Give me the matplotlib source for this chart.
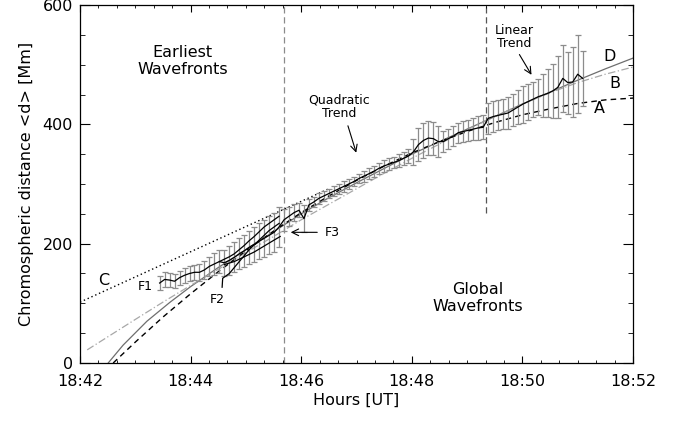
import matplotlib
matplotlib.use('Agg')
import matplotlib.pyplot as plt
from matplotlib.ticker import MultipleLocator

plt.rcParams['font.family'] = 'DejaVu Sans'

# time in minutes after 18:42 UT
t_mean = [1.44, 1.53, 1.62, 1.71, 1.80, 1.89, 1.98, 2.07, 2.16, 2.25,
          2.34, 2.43, 2.52, 2.61, 2.70, 2.79, 2.88, 2.97, 3.06, 3.15,
          3.24, 3.33, 3.42, 3.51, 3.60, 3.69, 3.78, 3.87, 3.96, 4.05,
          4.14, 4.23, 4.32, 4.41, 4.50, 4.59, 4.68, 4.77, 4.86, 4.95,
          5.04, 5.13, 5.22, 5.31, 5.40, 5.49, 5.58, 5.67, 5.76, 5.85,
          5.94, 6.03, 6.12, 6.21, 6.30, 6.39, 6.48, 6.57, 6.66, 6.75,
          6.84, 6.93, 7.02, 7.11, 7.20, 7.29, 7.38, 7.47, 7.56, 7.65,
          7.74, 7.83, 7.92, 8.01, 8.10, 8.19, 8.28, 8.37, 8.46, 8.55,
          8.64, 8.73, 8.82, 8.91, 9.00, 9.09]
# mean chromospheric distance <d> [Mm]
d_mean = [134, 140, 139, 137, 143, 147, 150, 152, 152, 156,
          162, 166, 170, 168, 172, 177, 183, 188, 194, 199,
          204, 209, 214, 219, 228, 240, 246, 252, 256, 242,
          265, 270, 276, 280, 284, 288, 292, 296, 300, 304,
          309, 313, 317, 321, 326, 330, 333, 336, 339, 343,
          347, 354, 366, 373, 377, 376, 371, 371, 376, 380,
          386, 388, 390, 392, 394, 395, 410, 413, 415, 417,
          419, 424, 429, 434, 438, 442, 446, 449, 452, 456,
          462, 477, 470, 471, 484, 477]
d_err = [12, 12, 12, 12, 12, 13, 13, 13, 14, 15,
         16, 18, 20, 22, 24, 25, 26, 27, 28, 29,
         30, 31, 32, 33, 33, 18, 16, 14, 12, 23,
         10, 9, 9, 9, 8, 8, 8, 9, 9, 8,
         8, 9, 9, 9, 10, 10, 10, 10, 11, 11,
         12, 22, 28, 29, 29, 28, 26, 18, 17, 17,
         17, 18, 18, 19, 20, 20, 26, 26, 25, 25,
         26, 27, 29, 31, 30, 29, 30, 36, 40, 45,
         52, 56, 52, 58, 65, 46]

# individual early fronts
t_f1 = [2.52, 2.61, 2.70, 2.79, 2.88, 2.97, 3.06, 3.15, 3.24, 3.33, 3.42, 3.51, 3.60]
d_f1 = [170, 174, 178, 183, 190, 197, 205, 212, 220, 228, 234, 240, 246]
t_f2 = [2.57, 2.58, 2.70, 2.79, 2.88, 2.97, 3.06, 3.15, 3.24, 3.33, 3.42, 3.51, 3.60]
d_f2 = [127, 142, 150, 160, 170, 180, 190, 198, 206, 214, 222, 228, 234]
t_f3 = [2.61, 2.79, 2.97, 3.15, 3.33, 3.51, 3.62]
d_f3 = [165, 170, 178, 186, 196, 206, 212]

# trend curves A-D
t_fit = [0.5, 1.0, 1.5, 2.0, 2.5, 3.0, 3.5, 4.0, 4.5, 5.0,
         5.5, 6.0, 6.5, 7.0, 7.5, 8.0, 8.5, 9.0, 9.5, 10.0]
t_fitA = [0.6] + t_fit[1:]
d_fitA = [0, 35, 77, 116, 153, 188, 221, 252, 280, 306,
          330, 352, 371, 388, 403, 416, 426, 435, 441, 444]
t_fitB = [0.13] + t_fit[1:]
d_fitB = [22, 73, 102, 130, 157, 185, 212, 240, 266, 292,
          318, 343, 367, 391, 413, 434, 453, 470, 484, 496]
t_fitC = [0.0, 4.5]
d_fitC = [102, 292]
t_fitD = [0.51, 0.78, 1.21, 1.63, 2.0, 2.5, 3.0, 3.5, 4.0, 4.5, 5.0,
          5.5, 6.0, 6.5, 7.0, 7.5, 8.0, 8.5, 9.0, 9.5, 10.0]
d_fitD = [0, 30, 70, 102, 128, 160, 190, 220, 250, 277, 302,
          326, 350, 371, 392, 413, 434, 454, 474, 493, 511]

t_split1 = 3.69
t_split2 = 7.34

xtick_pos = [0, 2, 4, 6, 8, 10]
xtick_labels = ['18:42', '18:44', '18:46', '18:48', '18:50', '18:52']

fig = plt.figure(figsize=(6.85, 4.21), dpi=100)
ax = fig.add_axes([0.1168, 0.1378, 0.8073, 0.8503])

# trends
ax.plot(t_fitD, d_fitD, color='#6e6e6e', lw=0.9, zorder=1)
ax.plot(t_fitB, d_fitB, color='#a8a8a8', lw=0.9, ls=(0, (6, 2, 1, 2)), zorder=1)
ax.plot(t_fitA, d_fitA, color='black', lw=1.0, ls=(0, (4, 3)), zorder=1)
ax.plot(t_fitC, d_fitC, color='black', lw=1.0, ls=(0, (1, 2)), zorder=1)

# region separators
ax.axvline(t_split1, color='#8a8a8a', lw=0.9, ls=(0, (5, 3)), zorder=0)
ax.plot([t_split2, t_split2], [251, 600], color='#555555', lw=0.9, ls=(0, (5, 3)), zorder=0)

# mean distance with error bars
ax.errorbar(t_mean, d_mean, yerr=d_err, fmt='none', ecolor='#8c8c8c',
            elinewidth=0.9, capsize=2.2, capthick=0.9, zorder=2)
ax.plot(t_mean, d_mean, color='black', lw=0.9, zorder=3)
ax.plot(t_f1, d_f1, color='black', lw=0.9, zorder=3)
ax.plot(t_f2, d_f2, color='black', lw=0.9, zorder=3)
ax.plot(t_f3, d_f3, color='black', lw=0.9, zorder=3)

ax.set_xlim(0, 10)
ax.set_ylim(0, 600)
ax.set_xticks(xtick_pos)
ax.set_xticklabels(xtick_labels)
ax.xaxis.set_minor_locator(MultipleLocator(1 / 3))
ax.yaxis.set_major_locator(MultipleLocator(200))
ax.yaxis.set_minor_locator(MultipleLocator(50))
ax.tick_params(which='both', direction='in', top=True, right=True, labelsize=11.5)
ax.tick_params(axis='x', which='major', length=5, pad=8)
ax.tick_params(axis='x', which='minor', length=2.5)
ax.tick_params(axis='y', which='major', length=7.2, pad=5)
ax.tick_params(axis='y', which='minor', length=3.6)
for s in ax.spines.values():
    s.set_linewidth(0.9)

ax.set_xlabel('Hours [UT]', fontsize=11.5, labelpad=3)
ax.set_ylabel('Chromospheric distance <d> [Mm]', fontsize=11.5, labelpad=6)

# annotations
ax.text(1.86, 506, 'Earliest\nWavefronts', ha='center', va='center', fontsize=11.5, linespacing=1.1)
ax.text(7.20, 109, 'Global\nWavefronts', ha='center', va='center', fontsize=11.5, linespacing=1.1)
ax.text(4.68, 429, 'Quadratic\nTrend', ha='center', va='center', fontsize=9, linespacing=1.05)
ax.annotate('', xy=(5.01, 348), xytext=(4.83, 402),
            arrowprops=dict(arrowstyle='->', color='black', lw=0.8, mutation_scale=12))
ax.text(7.85, 546, 'Linear\nTrend', ha='center', va='center', fontsize=9, linespacing=1.05)
ax.annotate('', xy=(8.19, 479), xytext=(7.92, 521),
            arrowprops=dict(arrowstyle='->', color='black', lw=0.8, mutation_scale=12))
ax.text(9.58, 513, 'D', ha='center', va='center', fontsize=11.5)
ax.text(9.67, 469, 'B', ha='center', va='center', fontsize=11.5)
ax.text(9.40, 427, 'A', ha='center', va='center', fontsize=11.5)
ax.text(0.42, 139, 'C', ha='center', va='center', fontsize=11.5)
ax.text(1.18, 129, 'F1', ha='center', va='center', fontsize=9)
ax.text(2.48, 107, 'F2', ha='center', va='center', fontsize=9)
ax.text(4.56, 219, 'F3', ha='center', va='center', fontsize=9)
ax.annotate('', xy=(3.76, 219), xytext=(4.34, 219),
            arrowprops=dict(arrowstyle='->', color='black', lw=0.8, mutation_scale=12))

fig.savefig('out.png', dpi=100)
